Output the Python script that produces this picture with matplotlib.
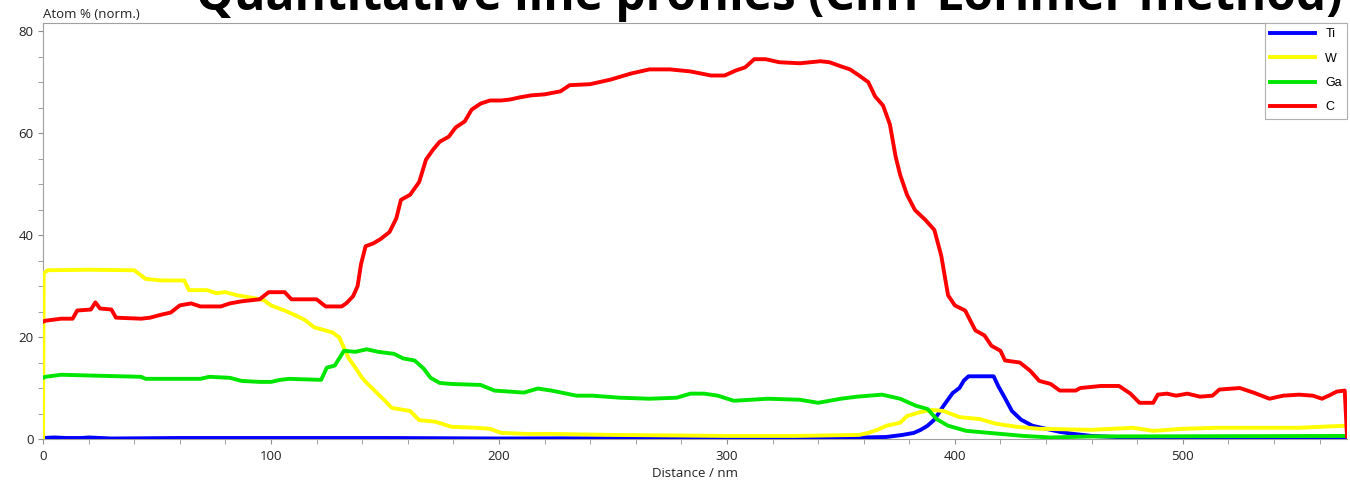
import numpy as np
import matplotlib
matplotlib.use("Agg")
import matplotlib.pyplot as plt
from matplotlib.ticker import MultipleLocator

# distance (nm) / atom %
ti_x = [0, 5, 10, 17, 20, 30, 60, 100, 150, 200, 300, 340, 360, 370, 377, 382, 385, 388, 391,
        395, 399, 402, 404, 406, 417, 419, 422, 425, 429, 434, 440, 446, 452, 460, 470, 480, 572]
ti_y = [0.2, 0.3, 0.2, 0.2, 0.3, 0.1, 0.2, 0.2, 0.2, 0.1, 0.2, 0.2, 0.3, 0.4, 0.8, 1.2, 1.8, 2.6, 3.8,
        6.5, 9.0, 10.0, 11.5, 12.3, 12.3, 10.4, 8.0, 5.5, 3.8, 2.6, 2.0, 1.4, 1.0, 0.6, 0.4, 0.3, 0.3]

w_x = [0, 0.3, 2, 20, 40, 43, 45, 52, 62, 64, 72, 76, 80, 85, 93, 97, 100, 106, 112, 115, 119,
       127, 130, 132, 134, 137, 140, 142, 150, 153, 161, 165, 172, 175, 179, 190, 196, 201, 212,
       223, 250, 300, 330, 358, 362, 366, 370, 376, 379, 385, 390, 395, 402, 411, 418, 427, 437,
       460, 478, 487, 500, 515, 530, 551, 571]
w_y = [0, 32.5, 33.1, 33.2, 33.1, 32.1, 31.4, 31.1, 31.1, 29.2, 29.2, 28.6, 28.8, 28.2, 27.6,
       27.2, 26.2, 25.2, 24.0, 23.3, 21.9, 20.9, 19.9, 17.9, 15.9, 14.0, 12.0, 11.0, 7.5, 6.1,
       5.5, 3.7, 3.4, 3.0, 2.4, 2.2, 2.0, 1.2, 1.0, 1.0, 0.8, 0.6, 0.6, 0.8, 1.2, 1.8, 2.6, 3.2,
       4.5, 5.3, 5.7, 5.5, 4.3, 3.9, 3.0, 2.4, 2.0, 1.8, 2.2, 1.6, 2.0, 2.2, 2.2, 2.2, 2.6]

ga_x = [0, 1, 8, 25, 43, 45, 69, 73, 82, 87, 95, 100, 104, 108, 122, 124.5, 128, 132, 137, 142,
        147, 154, 158, 163, 167, 170, 174, 179, 192, 198, 211, 217, 223, 234, 241, 253, 266,
        278, 284, 290, 296, 303, 318, 332, 340, 350, 357, 368, 376, 383, 388, 392, 397, 405,
        420, 430, 442, 460, 572]
ga_y = [12.0, 12.2, 12.6, 12.4, 12.2, 11.8, 11.8, 12.2, 12.0, 11.4, 11.2, 11.2, 11.6, 11.8, 11.6,
        14.0, 14.4, 17.3, 17.1, 17.6, 17.1, 16.7, 15.8, 15.4, 13.8, 12.0, 11.0, 10.8, 10.6, 9.5,
        9.1, 9.9, 9.5, 8.5, 8.5, 8.1, 7.9, 8.1, 8.9, 8.9, 8.5, 7.5, 7.9, 7.7, 7.1, 7.9, 8.3, 8.7,
        7.9, 6.5, 5.9, 3.9, 2.6, 1.6, 1.0, 0.6, 0.3, 0.5, 0.6]

c_x = [0, 1, 8, 13, 15, 21, 23, 25, 30, 32, 43, 47, 52, 56, 60, 65, 69, 78, 82, 87, 95, 99, 106,
       109, 120, 124, 131, 133, 136, 138, 139.5, 141.5, 145, 148, 152, 155, 157, 161, 165, 168,
       171, 174, 178, 181, 185, 188, 192, 196, 201, 205, 209, 214, 220, 227, 231, 240, 249, 258,
       266, 275, 284, 293, 299, 304, 308, 312, 317, 323, 332, 341, 345, 350, 354, 358, 362, 365,
       368.5, 371.5, 374, 376, 379, 382.5, 387, 391, 394, 397, 400, 404.5, 409, 413, 416, 420,
       422, 428.5, 433, 437, 442, 446, 453, 455, 464, 472, 477, 481, 487, 489, 493, 497, 502,
       507.5, 513, 516, 525, 531, 538, 544, 551, 557, 561, 564, 567.5, 571, 572]
c_y = [23.0, 23.2, 23.6, 23.6, 25.2, 25.4, 26.8, 25.6, 25.4, 23.8, 23.6, 23.8, 24.4, 24.8, 26.2,
       26.6, 26.0, 26.0, 26.6, 27.0, 27.4, 28.8, 28.8, 27.4, 27.4, 26.0, 26.0, 26.6, 28.0, 30.0,
       34.3, 37.8, 38.4, 39.2, 40.6, 43.3, 46.9, 47.9, 50.4, 54.8, 56.7, 58.3, 59.3, 61.1, 62.3,
       64.6, 65.8, 66.4, 66.4, 66.6, 67.0, 67.4, 67.6, 68.2, 69.4, 69.6, 70.5, 71.7, 72.5, 72.5,
       72.1, 71.3, 71.3, 72.3, 72.9, 74.5, 74.5, 73.9, 73.7, 74.1, 73.9, 73.1, 72.5, 71.3, 70.0,
       67.2, 65.4, 61.7, 55.4, 51.8, 47.9, 44.9, 43.0, 41.0, 36.0, 28.2, 26.2, 25.2, 21.3, 20.3,
       18.3, 17.3, 15.4, 15.0, 13.4, 11.4, 10.8, 9.5, 9.5, 10.0, 10.4, 10.4, 8.9, 7.1, 7.1, 8.7,
       8.9, 8.5, 8.9, 8.3, 8.5, 9.7, 10.0, 9.1, 7.9, 8.5, 8.7, 8.5, 7.9, 8.5, 9.3, 9.5, 0.5]

plt.rcParams['font.family'] = ['Open Sans', 'DejaVu Sans']

fig = plt.figure(figsize=(13.5, 4.87), dpi=100)
ax = fig.add_axes([43 / 1350, 1 - 439 / 487, (1347 - 43) / 1350, (439 - 23) / 487])

lw = 2.8
ax.plot(ti_x, ti_y, color='#0000ff', lw=lw, label='Ti', zorder=3)
ax.plot(w_x, w_y, color='#ffff00', lw=lw, label='W', zorder=3)
ax.plot(ga_x, ga_y, color='#00e600', lw=lw, label='Ga', zorder=3)
ax.plot(c_x, c_y, color='#ff0000', lw=lw, label='C', zorder=3)

ax.set_xlim(0, 572)
ax.set_ylim(0, 81.6)
ax.xaxis.set_major_locator(MultipleLocator(100))
ax.xaxis.set_minor_locator(MultipleLocator(20))
ax.yaxis.set_major_locator(MultipleLocator(20))
ax.yaxis.set_minor_locator(MultipleLocator(5))
ax.tick_params(which='both', direction='out', length=3.6, color='#909090',
               labelsize=9.5, labelcolor='#222222')
ax.tick_params(axis='y', pad=3)
ax.tick_params(axis='x', pad=4.5)
for s in ax.spines.values():
    s.set_color('#a0a0a0')
ax.spines['right'].set_visible(False)

ax.set_xlabel('Distance / nm', fontsize=9.5, color='#222222', labelpad=3)
fig.text(43 / 1350, 1 - 18 / 487, 'Atom % (norm.)', fontsize=9.5, color='#222222',
         ha='left', va='baseline')

fig.text(0.570, 1 - 10 / 487, 'Quantitative line profiles (Cliff-Lorimer method)',
         fontsize=34.5, fontweight='bold', color='black', ha='center', va='baseline')

leg = ax.legend(loc='upper right', bbox_to_anchor=(1, 1), borderaxespad=0,
                handlelength=3.6, labelspacing=1.0, fancybox=False,
                framealpha=1, edgecolor='#b0b0b0', prop={'family': 'Liberation Sans', 'size': 9})
leg.get_frame().set_linewidth(0.8)

fig.savefig('out.png', dpi=100)
